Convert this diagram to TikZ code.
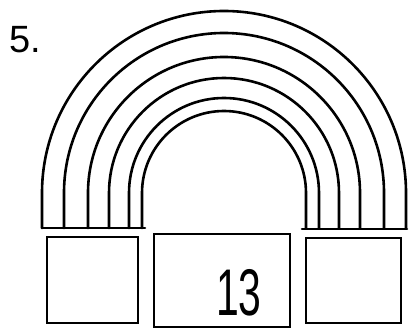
\documentclass[tikz,border=0pt]{standalone}
\usepackage{fontspec}
\setmainfont{Liberation Sans}
\usetikzlibrary{positioning}
\tikzset{
  bow/.style={line width=2.6pt, line cap=round},
  tile/.style={draw, line width=2.6pt},
}
\begin{document}
\begin{tikzpicture}[x=1pt,y=1pt]
\useasboundingbox (0,0) rectangle (409,329);

\node[font=\fontsize{38}{38}\selectfont, inner sep=0pt, anchor=south west] (num) at (9,276) {5.};

% rainbow bands
\foreach \r in {182,160,136,115,95,82}
  \draw[bow] (224-\r,101) -- (224-\r,136) arc[start angle=180, end angle=0, radius=\r] -- (224+\r,101);
\draw[bow] (42,101) -- (145,101);
\draw[bow] (302,100) -- (407,100);

% boxes below
\draw[tile] (47,6) rectangle (138,92);
\draw[tile, line width=1.6pt] (154,2) rectangle (290,95);
\draw[tile] (306,6) rectangle (401,91);
\node[font=\fontsize{66}{66}\selectfont, inner sep=0pt, xscale=0.62, anchor=base] (val) at (239,14) {13};
\end{tikzpicture}
\end{document}
